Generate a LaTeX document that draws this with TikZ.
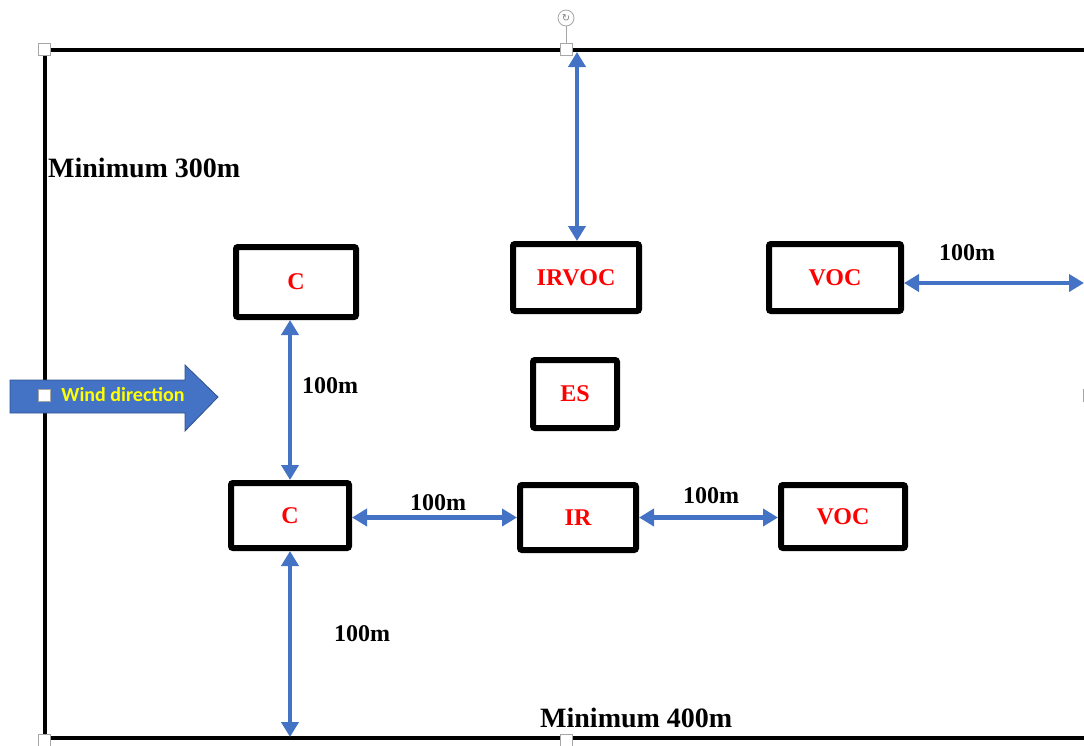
\documentclass[tikz,border=0pt]{standalone}
\usepackage{fontspec}
\setmainfont{Liberation Serif}
\newfontfamily\windfont{Carlito}
\newfontfamily\symfont{DejaVu Sans}
\usetikzlibrary{arrows.meta}
\definecolor{offblue}{HTML}{4472C4}
\definecolor{offblueedge}{HTML}{2F528F}
\tikzset{
  sbox/.style={draw=black, line width=6pt, rounded corners=2pt, fill=white, text=red,
    font=\fontsize{24}{28}\selectfont\bfseries, inner sep=0pt},
  dimarrow/.style={draw=offblue, line width=4.5pt, {Triangle[width=17pt,length=15pt]}-{Triangle[width=17pt,length=15pt]}},
  framel/.style={draw=black, line width=3.5pt},
  dimlabel/.style={font=\fontsize{24}{28}\selectfont\bfseries, anchor=base, inner sep=0pt},
  bigl/.style={font=\fontsize{28}{32}\selectfont\bfseries, anchor=base west, inner sep=0pt},
  handle/.style={draw=gray!70, fill=white, line width=0.8pt, minimum size=12pt, inner sep=0pt}
}
\begin{document}
\begin{tikzpicture}[x=1pt,y=-1pt]
\useasboundingbox (0,0) rectangle (1084,745);
% frame
\coordinate (tl) at (45,50);
\coordinate (tr) at (1090,50);
\coordinate (bl) at (45,738);
\coordinate (br) at (1090,738);
\draw[framel] (tr) -- (tl) -- (45,750);
\draw[framel] (bl) -- (br);
% boxes
\node[sbox, minimum width=120pt, minimum height=70pt] (c1) at (296,282) {C};
\node[sbox, minimum width=126pt, minimum height=67pt] (irvoc) at (576,277.5) {IRVOC};
\node[sbox, minimum width=132pt, minimum height=67pt] (voc1) at (835,277.5) {VOC};
\node[sbox, minimum width=84pt, minimum height=68pt] (es) at (575,394) {ES};
\node[sbox, minimum width=118pt, minimum height=65pt] (c2) at (290,515.5) {C};
\node[sbox, minimum width=116pt, minimum height=65pt] (ir) at (578,517.5) {IR};
\node[sbox, minimum width=124pt, minimum height=63pt] (voc2) at (843,516.5) {VOC};
% arrow end points
\coordinate (topend) at (577,52);
\coordinate (botend) at (290,737);
\coordinate (rightend) at (1084,283);
% dimension arrows
\draw[dimarrow] (topend) -- (topend |- irvoc.north);
\draw[dimarrow] (c2.north |- c1.south) -- (c2.north);
\draw[dimarrow] (c2.south) -- (botend);
\draw[dimarrow] (c2.east |- ir.west) -- (ir.west);
\draw[dimarrow] (ir.east) -- (ir.east -| voc2.west);
\draw[dimarrow] (voc1.east |- rightend) -- (rightend);
% labels
\node[dimlabel] (l1) at (330,393) {100m};
\node[dimlabel] (l2) at (438,510) {100m};
\node[dimlabel] (l3) at (711,503) {100m};
\node[dimlabel] (l4) at (362,641) {100m};
\node[dimlabel] (l5) at (967,260) {100m};
\node[bigl] (min300) at (48,177) {Minimum 300m};
\node[bigl] (min400) at (540,727) {Minimum 400m};
% wind arrow
\fill[offblue, draw=offblueedge, line width=0.8pt] (10,380) -- (185,380) -- (185,365) -- (218,397) -- (185,431) -- (185,413) -- (10,413) -- cycle;
\node[text={rgb,255:red,255;green,255;blue,0}, font=\windfont\fontsize{20}{24}\selectfont\bfseries, inner sep=0pt] (wind) at (123,395) {Wind direction};
% selection handles
\draw[gray!70, line width=0.8pt] (566,26) -- (566,43);
\node[draw=gray!70, fill=white, circle, line width=0.8pt, minimum size=16pt, inner sep=0pt, text=gray, font=\symfont\fontsize{10}{10}\selectfont] (rot) at (566,18) {↻};
\node[handle] (h1) at (44,49) {};
\node[handle] (h2) at (566,49) {};
\node[handle] (h3) at (44,395) {};
\node[handle] (h4) at (44,740) {};
\node[handle] (h5) at (566,740) {};
\node[handle] (h6) at (1089,395) {};
\end{tikzpicture}
\end{document}
